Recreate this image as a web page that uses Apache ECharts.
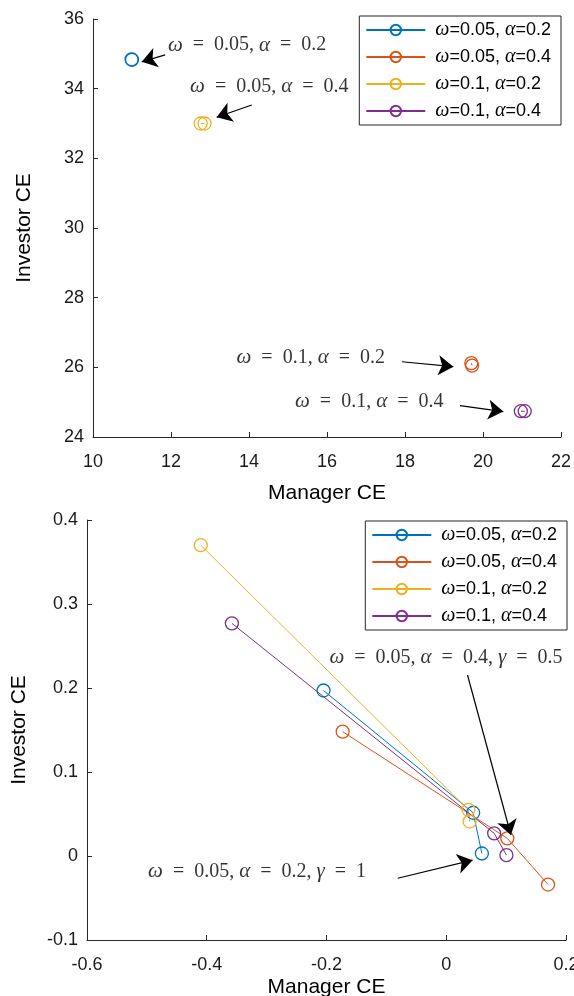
<!DOCTYPE html>
<html><head><meta charset="utf-8">
<script src="https://cdn.jsdelivr.net/npm/echarts@6/dist/echarts.min.js"></script>
<style>html,body{margin:0;padding:0;background:#fff}#c{width:574px;height:996px}</style>
</head><body><div id="c"></div>
<script>
// ---- data ----
const seriesNames = ['ω=0.05, α=0.2', 'ω=0.05, α=0.4', 'ω=0.1, α=0.2', 'ω=0.1, α=0.4'];
const colors = ['#0072BD', '#D95319', '#EDB120', '#7E2F8E'];

// top panel (Manager CE, Investor CE)
const topBlue   = [[10.99, 34.84], [11.00, 34.83]];
const topRed    = [[19.70, 26.12], [19.72, 26.05]];
const topYellow = [[12.76, 33.00], [12.86, 33.00]];
const topPurple = [[20.97, 24.74], [21.07, 24.74]];

// bottom panel
const botBlue   = [[-0.205, 0.197], [0.045, 0.0515], [0.0595, 0.003]];
const botRed    = [[-0.173, 0.148], [0.102, 0.021], [0.170, -0.034]];
const botYellow = [[-0.410, 0.370], [0.037, 0.055], [0.039, 0.041]];
const botPurple = [[-0.358, 0.277], [0.080, 0.027], [0.1005, 0.001]];

// annotations (data coordinates)
const topNotes = ['ω = 0.05, α = 0.2', 'ω = 0.05, α = 0.4', 'ω = 0.1, α = 0.2', 'ω = 0.1, α = 0.4'];
const topNoteAt = [[11.92, 35.25], [12.49, 34.05], [13.68, 26.27], [15.18, 25.01]];
const topArrowFrom = [[11.85, 34.97], [14.07, 33.53], [17.92, 26.16], [19.41, 24.90]];
const topArrowTo = [[11.25, 34.77], [13.17, 33.18], [19.24, 26.02], [20.52, 24.73]];

const botNotes = ['ω = 0.05, α = 0.4, γ = 0.5', 'ω = 0.05, α = 0.2, γ = 1'];
const botNoteAt = [[-0.195, 0.236], [-0.498, -0.019]];
const botArrowFrom = [[0.0355, 0.2155], [-0.081, -0.0265]];
const botArrowTo = [[0.108, 0.025], [0.044, -0.005]];

// axis ranges / ticks
const topX = {min: 10, max: 22, interval: 2};
const topY = {min: 24, max: 36, interval: 2};
const botX = {min: -0.6, max: 0.2, interval: 0.2};
const botY = {min: -0.1, max: 0.4, interval: 0.1};

// ---- chart ----
const chart = echarts.init(document.getElementById('c'), null, {renderer: 'canvas'});
const AX = '#262626';
const SANS = 'Liberation Sans';
const SERIF = 'Liberation Serif';

function axis(kind, r, gi, nameGap) {
  return {
    type: 'value', gridIndex: gi, min: r.min, max: r.max, interval: r.interval,
    name: kind === 'x' ? 'Manager CE' : 'Investor CE',
    nameLocation: 'middle', nameGap: nameGap,
    nameTextStyle: {color: '#000', fontSize: 21, fontFamily: SANS},
    axisLine: {show: true, onZero: false, lineStyle: {color: AX, width: 1}},
    axisTick: {show: true, inside: true, length: 5, lineStyle: {color: AX, width: 1}},
    axisLabel: {color: '#1a1a1a', fontSize: 18, fontFamily: SANS, margin: kind === 'x' ? 16 : 9},
    splitLine: {show: false}
  };
}

const panels = [
  {gi: 0, data: [topBlue, topRed, topYellow, topPurple]},
  {gi: 1, data: [botBlue, botRed, botYellow, botPurple]}
];
const series = [];
panels.forEach(p => {
  p.data.forEach((d, i) => {
    series.push({
      type: 'line', name: seriesNames[i], xAxisIndex: p.gi, yAxisIndex: p.gi,
      data: d, symbol: 'circle', symbolSize: 13, showSymbol: true,
      lineStyle: {color: colors[i], width: 1},
      itemStyle: {color: 'rgba(255,255,255,0)', borderColor: colors[i], borderWidth: 1.3},
      emphasis: {disabled: true}, animation: false, z: 3
    });
  });
});

function richNote(s) {
  return s.replace(/ = /g, '  =  ').replace(/([ωαγ])/g, '{g|$1}');
}
function noteSeries(gi, notes, at, from, to) {
  return {
    type: 'scatter', xAxisIndex: gi, yAxisIndex: gi, symbolSize: 0, silent: true, animation: false,
    data: notes.map((n, k) => ({value: at[k], name: n})),
    label: {
      show: true, position: 'right', distance: 0, color: '#000',
      fontFamily: SERIF, fontSize: 20,
      formatter: p => richNote(p.name),
      rich: {g: {fontFamily: SERIF, fontStyle: 'italic', fontSize: 21, color: '#000'}}
    },
    markLine: {
      silent: true, animation: false, symbol: ['none', 'arrow'], symbolSize: 15,
      lineStyle: {color: '#000', width: 1.2, type: 'solid'},
      label: {show: false}, emphasis: {disabled: true},
      data: from.map((f, k) => [{coord: f}, {coord: to[k]}])
    },
    z: 5
  };
}
series.push(noteSeries(0, topNotes, topNoteAt, topArrowFrom, topArrowTo));
series.push(noteSeries(1, botNotes, botNoteAt, botArrowFrom, botArrowTo));

function legendFmt(n) { return ' ' + n.replace(/([ωα])/g, '{g|$1}'); }
function legend(pos) {
  return Object.assign({
    data: seriesNames, orient: 'vertical', itemWidth: 59, itemHeight: 13, itemGap: 7,
    padding: [4, 10, 4, 6], borderColor: AX, borderWidth: 1, backgroundColor: '#fff',
    selectedMode: false, formatter: legendFmt,
    textStyle: {fontSize: 18, fontFamily: SANS, color: '#000',
      rich: {g: {fontFamily: SERIF, fontStyle: 'italic', fontSize: 20, color: '#000'}}}
  }, pos);
}

chart.setOption({
  animation: false,
  backgroundColor: '#fff',
  grid: [
    {left: 93, top: 19, width: 468, height: 418, outerBoundsMode: 'none', containLabel: false},
    {left: 87, top: 520, width: 479, height: 420, outerBoundsMode: 'none', containLabel: false}
  ],
  xAxis: [axis('x', topX, 0, 46), axis('x', botX, 1, 37)],
  yAxis: [axis('y', topY, 0, 58), axis('y', botY, 1, 57)],
  legend: [legend({right: 13, top: 16}), legend({right: 7, top: 521})],
  series: series
});
</script></body></html>
